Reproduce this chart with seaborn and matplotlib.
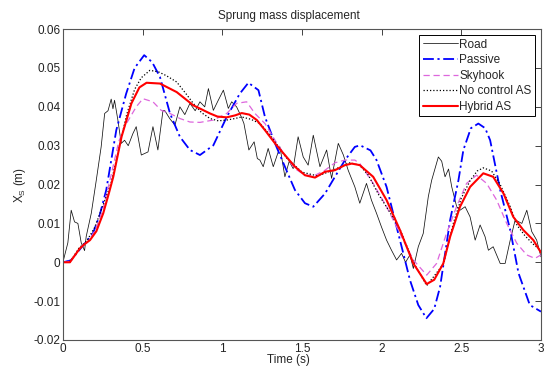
import numpy as np
import pandas as pd
import matplotlib
matplotlib.use("Agg")
import matplotlib.pyplot as plt
import seaborn as sns

# valores (tempo em s, deslocamento em m)
road_t = [0, 0.031, 0.052, 0.073, 0.094, 0.115, 0.136, 0.146, 0.178, 0.209, 0.24, 0.262, 0.283,
          0.303, 0.314, 0.324, 0.345, 0.366, 0.387, 0.41, 0.439, 0.46, 0.492, 0.534, 0.565, 0.596,
          0.628, 0.64, 0.67, 0.703, 0.734, 0.765, 0.797, 0.83, 0.86, 0.89, 0.913, 0.944, 0.975,
          1.007, 1.038, 1.059, 1.09, 1.12, 1.136, 1.167, 1.2, 1.22, 1.236, 1.257, 1.288, 1.32,
          1.362, 1.393, 1.42, 1.445, 1.476, 1.508, 1.539, 1.571, 1.613, 1.655, 1.686, 1.728, 1.76,
          1.79, 1.832, 1.863, 1.905, 1.936, 1.968, 1.999, 2.031, 2.062, 2.094, 2.125, 2.15, 2.178,
          2.199, 2.23, 2.261, 2.293, 2.314, 2.356, 2.377, 2.398, 2.42, 2.44, 2.471, 2.492, 2.524,
          2.555, 2.587, 2.618, 2.649, 2.67, 2.70, 2.744, 2.775, 2.807, 2.838, 2.88, 2.911, 2.942,
          2.973, 3.0]
road_x = [0.0, 0.005, 0.0134, 0.0104, 0.010, 0.005, 0.003, 0.0066, 0.0126, 0.021, 0.0297, 0.0383,
          0.039, 0.042, 0.0395, 0.0417, 0.0366, 0.0306, 0.0314, 0.030, 0.0331, 0.0349, 0.0276,
          0.0284, 0.0349, 0.0289, 0.0391, 0.039, 0.037, 0.0353, 0.040, 0.038, 0.0409, 0.039,
          0.0413, 0.040, 0.0447, 0.0391, 0.0417, 0.0443, 0.0396, 0.0413, 0.040, 0.0374, 0.0357,
          0.0289, 0.031, 0.0267, 0.0263, 0.0246, 0.0293, 0.0246, 0.0297, 0.022, 0.026, 0.0241,
          0.0323, 0.0271, 0.025, 0.0327, 0.0246, 0.0289, 0.0216, 0.0306, 0.0276, 0.0237, 0.0194,
          0.0152, 0.0203, 0.016, 0.0126, 0.0091, 0.0057, 0.0031, 0.0006, 0.0023, 0.000, 0.0019,
          -0.0016, 0.004, 0.0074, 0.0169, 0.0211, 0.0271, 0.026, 0.022, 0.024, 0.0194, 0.0143,
          0.0134, 0.0143, 0.0117, 0.0057, 0.0096, 0.0066, 0.0031, 0.004, -0.0003, -0.0003, 0.0057,
          0.0109, 0.010, 0.0134, 0.0079, 0.0057, 0.0014]

passive_t = [0, 0.05, 0.1, 0.13, 0.16, 0.188, 0.23, 0.272, 0.335, 0.397, 0.45, 0.51, 0.56, 0.609,
             0.672, 0.734, 0.797, 0.86, 0.944, 1.028, 1.11, 1.164, 1.227, 1.268, 1.331, 1.393,
             1.456, 1.519, 1.571, 1.645, 1.707, 1.77, 1.832, 1.865, 1.93, 1.968, 2.031, 2.094,
             2.136, 2.178, 2.23, 2.281, 2.33, 2.367, 2.43, 2.482, 2.513, 2.56, 2.607, 2.65, 2.681,
             2.744, 2.807, 2.859, 2.93, 3.0]
passive_x = [0.0, 0.0005, 0.003, 0.0045, 0.006, 0.0074, 0.012, 0.0186, 0.034, 0.0434, 0.050,
             0.0533, 0.0515, 0.0477, 0.0383, 0.0323, 0.0289, 0.0276, 0.0301, 0.0374, 0.0434,
             0.0462, 0.0443, 0.0374, 0.0306, 0.0246, 0.0186, 0.0152, 0.0143, 0.0177, 0.022,
             0.0263, 0.0297, 0.0301, 0.0288, 0.0263, 0.0194, 0.0091, 0.0023, -0.0046, -0.011,
             -0.0144, -0.012, -0.0063, 0.0109, 0.0211, 0.0289, 0.0345, 0.0357, 0.0345, 0.0314,
             0.0186, 0.0083, -0.0028, -0.011, -0.0127]

skyhook_t = [0, 0.05, 0.1, 0.15, 0.2, 0.25, 0.3, 0.35, 0.387, 0.46, 0.502, 0.565, 0.617, 0.672,
             0.734, 0.797, 0.86, 0.944, 1.028, 1.09, 1.153, 1.205, 1.268, 1.331, 1.393, 1.456,
             1.519, 1.582, 1.645, 1.707, 1.77, 1.832, 1.863, 1.947, 2.031, 2.115, 2.199, 2.283,
             2.345, 2.407, 2.47, 2.533, 2.596, 2.659, 2.722, 2.785, 2.848, 2.91, 2.962, 3.0]
skyhook_x = [0.0, 0.0003, 0.0033, 0.005, 0.008, 0.0135, 0.022, 0.031, 0.0349, 0.040, 0.0421,
             0.0413, 0.0391, 0.0383, 0.037, 0.0361, 0.036, 0.0366, 0.0383, 0.0409, 0.0413,
             0.0383, 0.0357, 0.0314, 0.0276, 0.0241, 0.0224, 0.0224, 0.0237, 0.0256, 0.0263,
             0.0263, 0.0254, 0.0203, 0.0143, 0.0074, 0.0006, -0.0033, -0.0003, 0.0074, 0.0143,
             0.0203, 0.0224, 0.0203, 0.016, 0.010, 0.0049, 0.0019, 0.001, 0.0019]

nocontrol_t = [0, 0.044, 0.1, 0.15, 0.2, 0.25, 0.3, 0.35, 0.4, 0.45, 0.492, 0.546, 0.6, 0.65,
               0.714, 0.77, 0.818, 0.87, 0.923, 0.975, 1.028, 1.08, 1.122, 1.18, 1.237, 1.3, 1.4,
               1.5, 1.6, 1.7, 1.8, 1.86, 1.916, 1.98, 2.05, 2.115, 2.199, 2.283, 2.387, 2.45, 2.5,
               2.555, 2.6, 2.638, 2.69, 2.744, 2.807, 2.85, 2.9, 2.95, 3.0]
nocontrol_x = [0.0, 0.0, 0.0036, 0.0055, 0.009, 0.0145, 0.020, 0.029, 0.038, 0.0445, 0.0475,
               0.0494, 0.049, 0.048, 0.0464, 0.0435, 0.0409, 0.0385, 0.037, 0.0364, 0.0366,
               0.037, 0.0374, 0.0368, 0.0357, 0.0328, 0.027, 0.0232, 0.0222, 0.0238, 0.0256,
               0.025, 0.0225, 0.0175, 0.013, 0.0085, 0.0, -0.006, -0.0005, 0.010, 0.0165, 0.021,
               0.0235, 0.0243, 0.0235, 0.020, 0.0143, 0.0095, 0.0068, 0.0047, 0.003]

hybrid_t = [0, 0.044, 0.07, 0.107, 0.14, 0.17, 0.21, 0.253, 0.29, 0.316, 0.368, 0.43, 0.48, 0.525,
            0.609, 0.714, 0.818, 0.923, 0.97, 1.028, 1.08, 1.122, 1.17, 1.217, 1.268, 1.331,
            1.393, 1.456, 1.519, 1.582, 1.645, 1.707, 1.77, 1.813, 1.863, 1.947, 2.031, 2.115,
            2.199, 2.283, 2.33, 2.387, 2.43, 2.492, 2.555, 2.638, 2.7, 2.765, 2.826, 2.889, 2.952,
            3.0]
hybrid_x = [0.0, 0.0, 0.0015, 0.0036, 0.0048, 0.0057, 0.008, 0.0126, 0.018, 0.022, 0.0323,
            0.0409, 0.045, 0.0462, 0.046, 0.0438, 0.0404, 0.0383, 0.0375, 0.0373, 0.0378, 0.0384,
            0.038, 0.0366, 0.034, 0.0306, 0.0276, 0.0246, 0.0224, 0.0218, 0.0233, 0.0237, 0.025,
            0.0254, 0.025, 0.022, 0.016, 0.0083, -0.0003, -0.0056, -0.0045, -0.0003, 0.0066,
            0.0143, 0.0194, 0.0229, 0.022, 0.0177, 0.0117, 0.0083, 0.0057, 0.0025]

xticks = [0, 0.5, 1, 1.5, 2, 2.5, 3]
xtick_labels = ['0', '0.5', '1', '1.5', '2', '2.5', '3']
yticks = [-0.02, -0.01, 0, 0.01, 0.02, 0.03, 0.04, 0.05, 0.06]
ytick_labels = ['-0.02', '-0.01', '0', '0.01', '0.02', '0.03', '0.04', '0.05', '0.06']

sns.set_style("white")
plt.rcParams['font.family'] = ['Liberation Sans', 'DejaVu Sans']
plt.rcParams['font.size'] = 8.5

fig = plt.figure(figsize=(5.47, 3.67), dpi=100)
ax = fig.add_axes([0.115, 0.0736, 0.874, 0.847])

sns.lineplot(x=road_t, y=road_x, ax=ax, color='#111111', lw=0.55, label='Road')
sns.lineplot(x=passive_t, y=passive_x, ax=ax, color='#0000ff', lw=1.3, label='Passive')
sns.lineplot(x=skyhook_t, y=skyhook_x, ax=ax, color='#dd66dd', lw=0.9, label='Skyhook')
sns.lineplot(x=nocontrol_t, y=nocontrol_x, ax=ax, color='black', lw=0.9, label='No control AS')
sns.lineplot(x=hybrid_t, y=hybrid_x, ax=ax, color='#ff0000', lw=1.5, label='Hybrid AS')

# estilos de traço parecidos com o matlab
linhas = ax.get_lines()
linhas[1].set_dashes([6, 2, 1.2, 2])
linhas[2].set_dashes([5, 3])
linhas[3].set_dashes([1, 1.6])

ax.set_xlim(0, 3)
ax.set_ylim(-0.02, 0.06)
ax.set_xticks(xticks)
ax.set_xticklabels(xtick_labels)
ax.set_yticks(yticks)
ax.set_yticklabels(ytick_labels)
ax.tick_params(direction='in', length=4, width=0.6, top=True, right=True, labelsize=8.5,
               colors='#222222', pad=2)
for s in ax.spines.values():
    s.set_color('#555555')
    s.set_linewidth(0.8)

ax.set_title('Sprung mass displacement', fontsize=8.5, pad=7, x=0.472)
ax.set_xlabel('Time (s)', fontsize=8.5, labelpad=1)
ax.xaxis.set_label_coords(0.472, -0.045)
ax.set_ylabel('X$_\\mathregular{S}$ (m)', fontsize=8.5, labelpad=4)

leg = ax.legend(loc='upper right', fontsize=8.5, frameon=True, fancybox=False, framealpha=1,
                edgecolor='black', handlelength=3, handletextpad=0.1, labelspacing=0.3,
                borderpad=0.3, borderaxespad=0.5)
leg.get_frame().set_linewidth(0.7)

fig.savefig('out.png', dpi=100)
